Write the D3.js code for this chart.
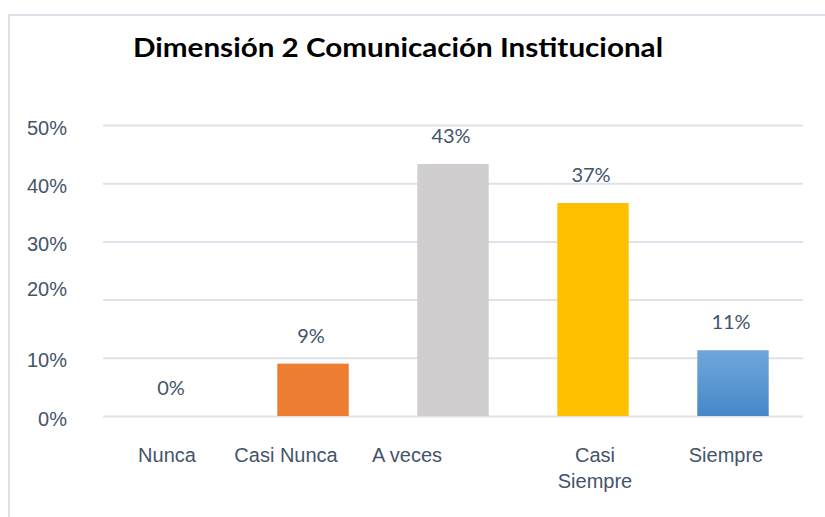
<!DOCTYPE html>
<html lang="es">
<head>
<meta charset="UTF-8" />
<title>Dimensión 2 Comunicación Institucional</title>
<script src="https://d3js.org/d3.v7.min.js"></script>
<style>
  body { margin: 0; background: #fff; }
  svg { display: block; font-family: Lato, "Open Sans", sans-serif; }
  .grid line { stroke: #dfe2ea; stroke-width: 2; }
  .grid .domain { display: none; }
  .yaxis .domain, .yaxis line, .xaxis .domain, .xaxis line { display: none; }
  .yaxis text, .xaxis text, .val { fill: #44546a; font-size: 20px; }
</style>
</head>
<body>
<div id="chart"></div>
<script>
  const title = "Dimensión 2 Comunicación Institucional";
  const categories = ["Nunca", "Casi Nunca", "A veces", "Casi Siempre", "Siempre"];
  const values = [0, 0.09, 0.433, 0.366, 0.113];
  const yTicks = [0, 0.1, 0.2, 0.3, 0.4, 0.5];

  const barColors = ["#ed7d31", "#ed7d31", "#d0cece", "#ffc000", "url(#blueGrad)"];
  // small horizontal nudges the original picture has on its category labels
  const catNudge = [-6, -27, -46, 2, -7];

  const W = 825, H = 517;
  const margin = { top: 125, right: 22, bottom: 101, left: 103 };
  const width = W - margin.left - margin.right,
        height = H - margin.top - margin.bottom;

  const svg = d3.select("#chart").append("svg")
      .attr("width", W).attr("height", H);

  const defs = svg.append("defs");
  const grad = defs.append("linearGradient").attr("id", "blueGrad")
      .attr("x1", 0).attr("y1", 0).attr("x2", 0).attr("y2", 1);
  grad.append("stop").attr("offset", "0%").attr("stop-color", "#6fa7dc");
  grad.append("stop").attr("offset", "100%").attr("stop-color", "#4787c7");

  // chart area border
  svg.append("rect")
      .attr("x", 9).attr("y", 15)
      .attr("width", W + 20).attr("height", H + 20)
      .attr("fill", "none").attr("stroke", "#dde0e9").attr("stroke-width", 2);

  svg.append("text")
      .attr("x", 398).attr("y", 57)
      .attr("text-anchor", "middle")
      .style("font-size", "26px").style("font-weight", "bold")
      .style("fill", "#000")
      .attr("textLength", 530).attr("lengthAdjust", "spacingAndGlyphs")
      .text(title);

  const g = svg.append("g").attr("transform", `translate(${margin.left},${margin.top})`);

  const x = d3.scaleBand().domain(categories).range([0, width])
      .paddingInner(0.49).paddingOuter(0.245);
  const y = d3.scaleLinear().domain([0, 0.5]).range([height, 0]);

  g.append("g").attr("class", "grid")
      .call(d3.axisLeft(y).tickValues(yTicks).tickSize(-width).tickFormat(""));

  const yAx = g.append("g").attr("class", "yaxis")
      .attr("transform", "translate(-33,2)")
      .call(d3.axisLeft(y).tickValues(yTicks).tickSize(0).tickFormat(d3.format(".0%")));
  yAx.selectAll("text").attr("dy", d => d === 0.2 ? "-0.22em" : "0.35em")
      .attr("y", d => d === 0.2 ? -2 : 0);

  g.selectAll(".bar").data(values).enter().append("rect")
      .attr("class", "bar")
      .attr("x", (d, i) => x(categories[i]))
      .attr("y", d => y(d))
      .attr("width", x.bandwidth())
      .attr("height", d => height - y(d))
      .attr("fill", (d, i) => barColors[i]);

  g.selectAll(".val").data(values).enter().append("text")
      .attr("class", "val")
      .attr("x", (d, i) => x(categories[i]) + x.bandwidth() / 2 - 2)
      .attr("y", d => y(d) - 21)
      .attr("text-anchor", "middle")
      .text(d => d3.format(".0%")(d));

  const xAx = g.append("g").attr("class", "xaxis")
      .attr("transform", `translate(0,${height})`)
      .call(d3.axisBottom(x).tickSize(0).tickFormat(""));

  xAx.selectAll(".tick").each(function (d, i) {
    const t = d3.select(this).append("text")
        .attr("text-anchor", "middle")
        .attr("x", catNudge[i])
        .attr("y", 46);
    const words = d === "Casi Siempre" ? ["Casi", "Siempre"] : [d];
    words.forEach((w, k) => {
      t.append("tspan").attr("x", catNudge[i]).attr("dy", k === 0 ? 0 : 26).text(w);
    });
  });
</script>
</body>
</html>
